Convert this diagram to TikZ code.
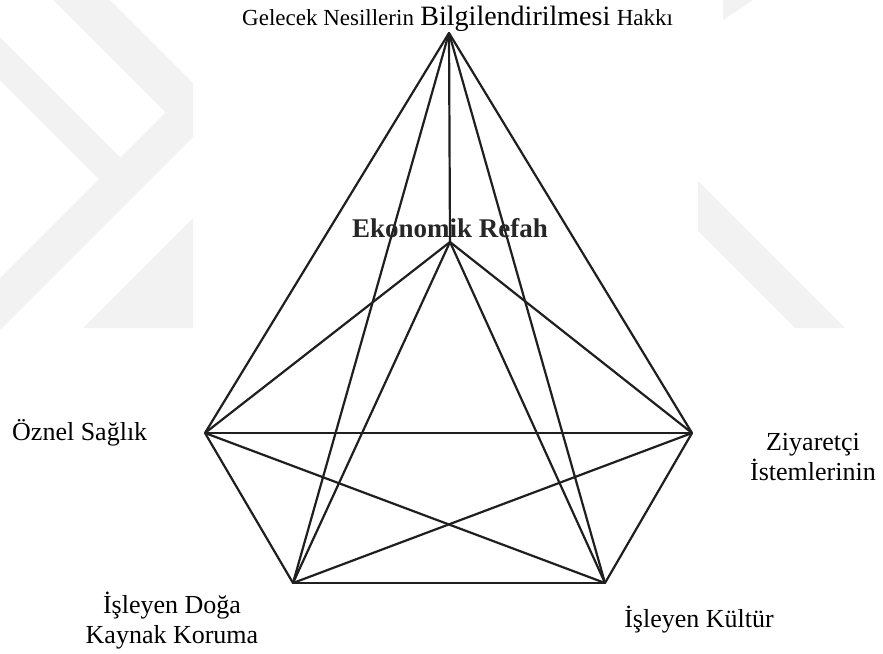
\documentclass[tikz,border=0pt]{standalone}
\usepackage{fontspec}
\setmainfont{Liberation Serif}

\begin{document}
\begin{tikzpicture}[x=1pt,y=-1pt]
	\tikzset{vertex/.style = {inner sep=0pt,minimum size=0pt}}
	\tikzset{edge/.style={line width=2.2pt,black!88,line cap=round}}
	\tikzset{lbl/.style={inner sep=0pt,font=\fontsize{26}{30}\selectfont}}
	\tikzset{wmark/.style={fill=black!5}}

	\useasboundingbox (0,0) rectangle (883,653);

	% watermark
	\begin{scope}
		\clip (0,0) rectangle (193,328);
		\fill[wmark] (53,0) -- (165.5,112.5) -- (120.5,157.5) -- (0,37) -- (0,80)
			-- (99,179) -- (0,278) -- (0,330) -- (220,110) -- (110,0) -- cycle;
		\fill[wmark] (193,218) -- (193,328) -- (83,328) -- cycle;
	\end{scope}
	\begin{scope}
		\clip (698,0) rectangle (883,328);
		\fill[wmark] (698,181) -- (698,231) -- (795,328) -- (845,328) -- cycle;
		\fill[wmark] (723,0) -- (753,0) -- (723,20) -- cycle;
	\end{scope}

	% vertices
	\node[vertex] (gel) at (449,33) {};
	\node[vertex] (eko) at (450,242) {};
	\node[vertex] (ozn) at (205,433) {};
	\node[vertex] (ziy) at (692,433) {};
	\node[vertex] (dog) at (293,583) {};
	\node[vertex] (kul) at (605,583) {};

	% edges
	\draw[edge] (gel) to (eko);
	\draw[edge] (gel) to (ozn);
	\draw[edge] (gel) to (ziy);
	\draw[edge] (gel) to (dog);
	\draw[edge] (gel) to (kul);
	\draw[edge] (eko) to (ozn);
	\draw[edge] (eko) to (ziy);
	\draw[edge] (eko) to (dog);
	\draw[edge] (eko) to (kul);
	\draw[edge] (ozn) to (ziy);
	\draw[edge] (ozn) to (dog);
	\draw[edge] (ozn) to (kul);
	\draw[edge] (ziy) to (dog);
	\draw[edge] (ziy) to (kul);
	\draw[edge] (dog) to (kul);

	% labels
	\node[lbl,anchor=base west] (gelL) at (242,25)
		{{\fontsize{23}{28}\selectfont Gelecek Nesillerin} {\fontsize{28}{32}\selectfont Bilgilendirilmesi} {\fontsize{23}{28}\selectfont Hakkı}};
	\node[lbl,anchor=base,font=\bfseries\fontsize{27}{30}\selectfont,text=black!85] (ekoL) at (450,237) {Ekonomik Refah};
	\node[lbl,anchor=base west] (oznL) at (12,440) {Öznel Sağlık};
	\node[lbl,anchor=base,align=center] (ziyL) at (813,480) {Ziyaretçi\\İstemlerinin};
	\node[lbl,anchor=base,align=center] (dogL) at (172,643) {İşleyen Doğa\\Kaynak Koruma};
	\node[lbl,anchor=base] (kulL) at (699,627) {İşleyen Kültür};
\end{tikzpicture}
\end{document}
